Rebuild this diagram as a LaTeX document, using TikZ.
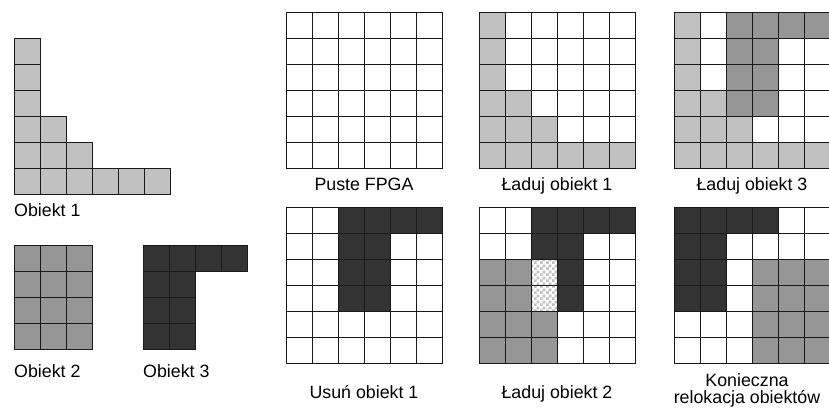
\documentclass[tikz,border=0pt]{standalone}
\usepackage{fontspec}
\setmainfont{Liberation Sans}
\usetikzlibrary{patterns}
\definecolor{objA}{HTML}{C0C0C0}
\definecolor{objB}{HTML}{969696}
\definecolor{objC}{HTML}{333333}
\pgfdeclarepatternformonly{fpgachecker}{\pgfpointorigin}{\pgfqpoint{6pt}{6pt}}{\pgfqpoint{6pt}{6pt}}{%
  \pgfpathrectangle{\pgfpointorigin}{\pgfqpoint{3pt}{3pt}}%
  \pgfpathrectangle{\pgfqpoint{3pt}{3pt}}{\pgfqpoint{3pt}{3pt}}%
  \pgfusepath{fill}}
% #1,#2 = top left corner, #3 = rows of cell codes (0 free, 1-3 objects, 4 hole)
\newcommand{\cellgrid}[3]{%
  \foreach \row [count=\r from 0] in {#3}{%
    \foreach \c [count=\k from 0] in \row{%
      \ifcase\c\relax \def\cellfill{white}\or \def\cellfill{objA}\or \def\cellfill{objB}\or \def\cellfill{objC}\or \def\cellfill{white}\fi
      \fill[\cellfill] ({#1+26*\k},{#2+26*\r}) rectangle ++(26,26);
      \ifnum\c=4 \fill[pattern=fpgachecker, pattern color=objA] ({#1+26*\k},{#2+26*\r}) rectangle ++(26,26);\fi
      \draw[cellline] ({#1+26*\k},{#2+26*\r}) rectangle ++(26,26);
    }}}

\begin{document}
\begin{tikzpicture}[x=1pt, y=-1pt, font=\fontsize{17.8}{17}\selectfont,
    cellline/.style={draw=black!90, line width=1pt},
    lbl/.style={inner sep=0pt, anchor=base}]
  \useasboundingbox (0,0) rectangle (829,407);
  \cellgrid{14}{38}{{1},{1},{1},{1,1},{1,1,1},{1,1,1,1,1,1}}
  \cellgrid{14}{245}{{2,2,2},{2,2,2},{2,2,2},{2,2,2}}
  \cellgrid{143}{245}{{3,3,3,3},{3,3},{3,3},{3,3}}
  \node[lbl, anchor=base west] (ob1) at (14,216) {Obiekt 1};
  \node[lbl, anchor=base west] (ob2) at (14,377) {Obiekt 2};
  \node[lbl, anchor=base west] (ob3) at (143,377) {Obiekt 3};
  \cellgrid{286}{12}{{0,0,0,0,0,0},{0,0,0,0,0,0},{0,0,0,0,0,0},{0,0,0,0,0,0},{0,0,0,0,0,0},{0,0,0,0,0,0}}
  \cellgrid{479}{12}{{1,0,0,0,0,0},{1,0,0,0,0,0},{1,0,0,0,0,0},{1,1,0,0,0,0},{1,1,1,0,0,0},{1,1,1,1,1,1}}
  \cellgrid{674}{12}{{1,0,2,2,2,2},{1,0,2,2,0,0},{1,0,2,2,0,0},{1,1,2,2,0,0},{1,1,1,0,0,0},{1,1,1,1,1,1}}
  \cellgrid{286}{207}{{0,0,3,3,3,3},{0,0,3,3,0,0},{0,0,3,3,0,0},{0,0,3,3,0,0},{0,0,0,0,0,0},{0,0,0,0,0,0}}
  \cellgrid{479}{207}{{0,0,3,3,3,3},{0,0,3,3,0,0},{2,2,4,3,0,0},{2,2,4,3,0,0},{2,2,2,0,0,0},{2,2,2,0,0,0}}
  \cellgrid{674}{207}{{3,3,3,3,0,0},{3,3,0,0,0,0},{3,3,0,2,2,2},{3,3,0,2,2,2},{0,0,0,2,2,2},{0,0,0,2,2,2}}
  \node[lbl] (step1) at (364,190) {Puste FPGA};
  \node[lbl] (step2) at (557,190) {Ładuj obiekt 1};
  \node[lbl] (step3) at (752,190) {Ładuj obiekt 3};
  \node[lbl] (step4) at (364,398) {Usuń obiekt 1};
  \node[lbl] (step5) at (557,398) {Ładuj obiekt 2};
  \node[lbl, anchor=center, align=center] (step6) at (747,390) {Konieczna\\relokacja obiektów};
\end{tikzpicture}
\end{document}
